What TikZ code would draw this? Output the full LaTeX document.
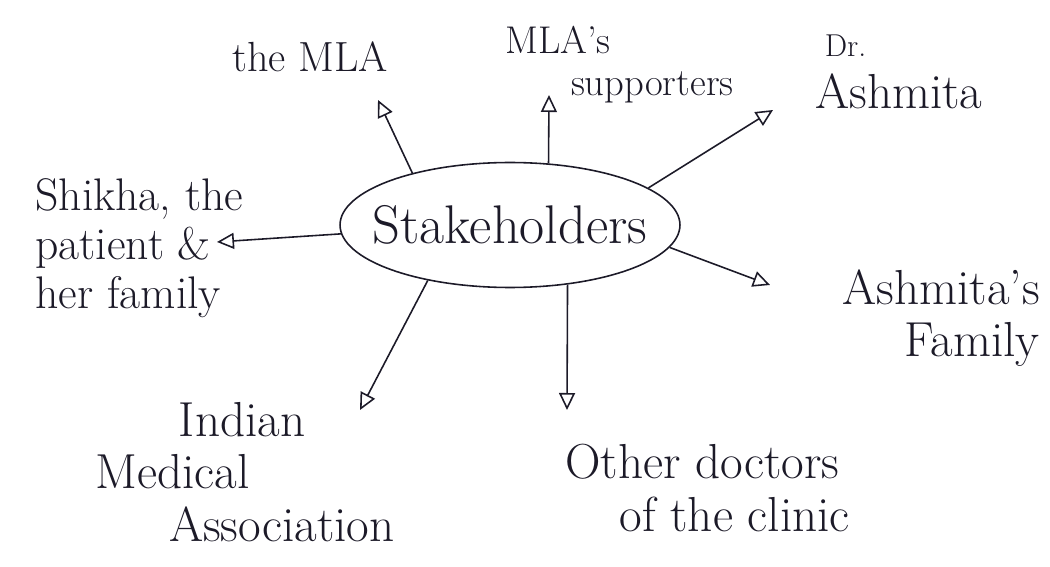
\documentclass[tikz,border=0pt]{standalone}
\usetikzlibrary{arrows.meta,shapes.geometric}
\definecolor{ink}{RGB}{28,26,40}
\tikzset{x=0.02cm, y=-0.02cm,
    every node/.style={text=ink, font=\fontsize{28}{30}\selectfont},
    holder/.style={align=left, inner sep=0pt},
    hubnode/.style={ellipse, draw=ink, line width=0.9pt, minimum width=6.8cm, minimum height=2.5cm},
    link/.style={draw=ink, line width=0.9pt, -{Triangle[open,length=3.4mm,width=3.2mm]}},
    }

\begin{document}
\begin{tikzpicture}
\useasboundingbox (0,0) rectangle (1050,567);
\node[hubnode] (hub) at (510,225) {};
\node[holder, font=\fontsize{31}{33}\selectfont] (hubtext) at (hub.center) {Stakeholders};
% the stakeholders round the hub
\node[holder, font=\fontsize{24}{26}\selectfont] (mla) at (310,57) {the MLA};
\node[holder, anchor=north west, font=\fontsize{22}{24}\selectfont] (supporters) at (505,26) {MLA's\\\hspace*{1.7em}supporters};
\node[holder, anchor=west] (ashmita) at (815,72) {{\fontsize{18}{18}\selectfont\hspace*{0.3em}Dr.}\\Ashmita};
\node[holder, anchor=west, font=\fontsize{26}{28}\selectfont] (shikha) at (35,248) {Shikha, the\\patient \&\\her family};
\node[holder, anchor=east, align=right] (family) at (1040,318) {Ashmita's\\Family};
\node[holder, anchor=west] (ima) at (95,472) {\hspace*{1.7em}Indian\\Medical\\\hspace*{1.5em}Association};
\node[holder, anchor=west] (doctors) at (565,488) {Other doctors\\\hspace*{1.1em}of the clinic};
% arrow tips
\coordinate (mlaTip) at (378,100);
\coordinate (supTip) at (549,95);
\coordinate (ashTip) at (773,110);
\coordinate (shiTip) at (217,242);
\coordinate (famTip) at (770,285);
\coordinate (docTip) at (567,410);
\coordinate (imaTip) at (360,410);
\draw[link] (hub.152) -- (mlaTip);
\draw[link] (hub.58) -- (supTip);
\draw[link] (hub.15) -- (ashTip);
\draw[link] (hub.183) -- (shiTip);
\draw[link] (hub.-8) -- (famTip);
\draw[link] (hub.-46.5) -- (docTip);
\draw[link] (hub.214.5) -- (imaTip);
\end{tikzpicture}
\end{document}
